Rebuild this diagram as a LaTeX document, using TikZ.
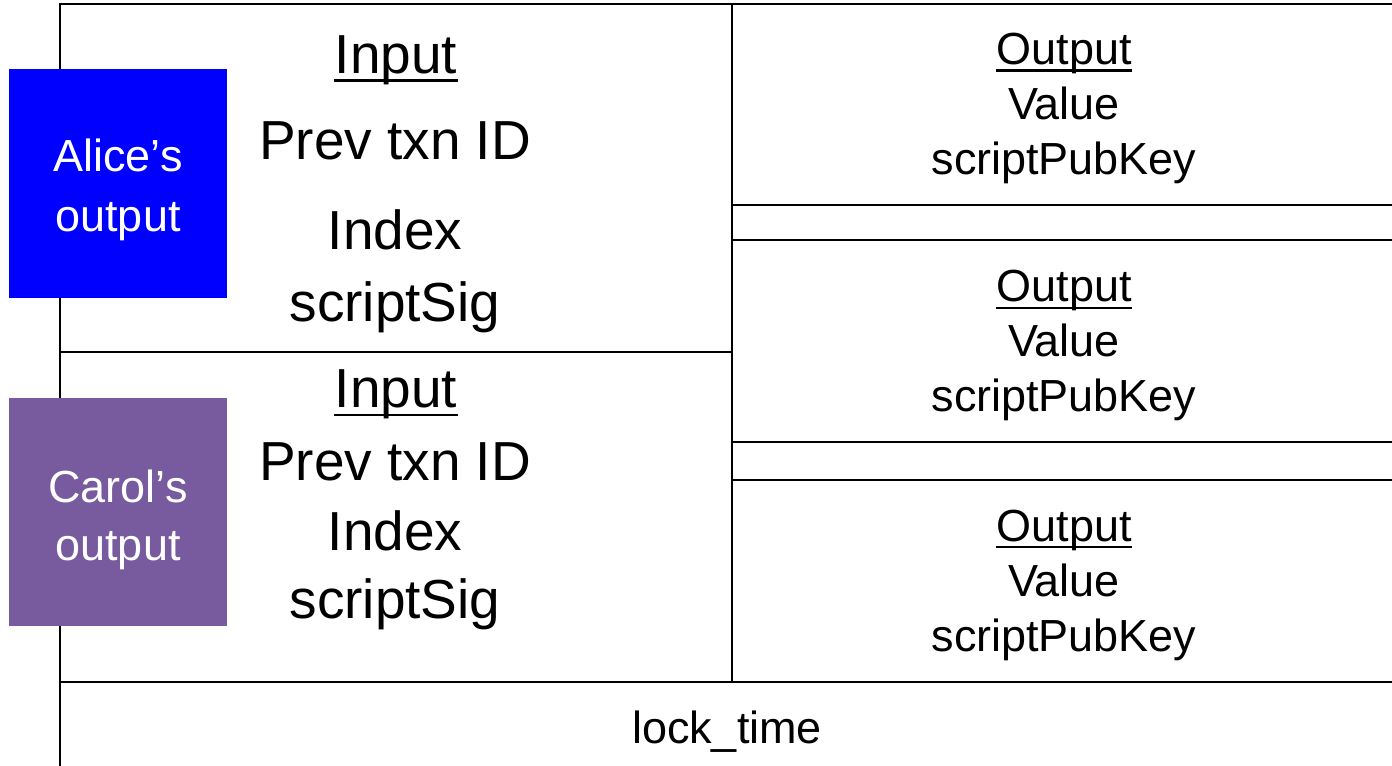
\documentclass[tikz,border=0pt]{standalone}
\usepackage{fontspec}
\setmainfont{Liberation Sans}
\definecolor{alicefill}{RGB}{0,0,255}
\definecolor{carolfill}{RGB}{120,91,158}
\begin{document}
\begin{tikzpicture}[x=0.02cm, y=-0.02cm, line width=1.1pt,
    bigtxt/.style={anchor=base, inner sep=0pt, font=\fontsize{31.3}{36}\selectfont},
    smalltxt/.style={anchor=base, inner sep=0pt, font=\fontsize{25.6}{30}\selectfont},
    ownerbox/.style={draw=none, minimum width=4.36cm, minimum height=4.58cm, inner sep=0pt},
    ownertxt/.style={smalltxt, text=white}]
\useasboundingbox (0,0) rectangle (1392,766);
% frame of the transaction
\draw (60,766) -- (60,4) -- (1392,4);
\draw (732,4) -- (732,682);
\draw (60,352) -- (732,352);
\draw (60,682) -- (1392,682);
\foreach \y in {205,240,442,480} \draw (732,\y) -- (1392,\y);
% inputs
\node[bigtxt] (in1) at (396,74) {Input};
\node[bigtxt] (prev1) at (395,160) {Prev txn ID};
\node[bigtxt] (idx1) at (395,250) {Index};
\node[bigtxt] (sig1) at (395,322) {scriptSig};
\node[bigtxt] (in2) at (396,408) {Input};
\node[bigtxt] (prev2) at (395,480) {Prev txn ID};
\node[bigtxt] (idx2) at (395,550) {Index};
\node[bigtxt] (sig2) at (395,618) {scriptSig};
% outputs
\foreach \dy [count=\i] in {0,237,476} {
    \node[smalltxt] (out\i) at (1064,65+\dy) {Output};
    \node[smalltxt] (val\i) at (1064,120+\dy) {Value};
    \node[smalltxt] (pk\i) at (1064,175+\dy) {scriptPubKey};
}
\node[smalltxt] (lock) at (727,743) {lock\_time};
% underlined headings
\foreach \n/\d in {in1/0.14cm, in2/0.14cm, out1/0.12cm, out2/0.12cm, out3/0.12cm}
    \draw[line width=1.7pt] ([yshift=-\d]\n.base west) -- ([yshift=-\d]\n.base east);
% previous outputs being spent
\node[ownerbox, fill=alicefill] (alice) at (118,183.5) {};
\node[ownertxt] at (118,172) {Alice’s};
\node[ownertxt] at (118,232) {output};
\node[ownerbox, fill=carolfill] (carol) at (118,512) {};
\node[ownertxt] at (118,502) {Carol’s};
\node[ownertxt] at (118,560) {output};
\end{tikzpicture}
\end{document}
